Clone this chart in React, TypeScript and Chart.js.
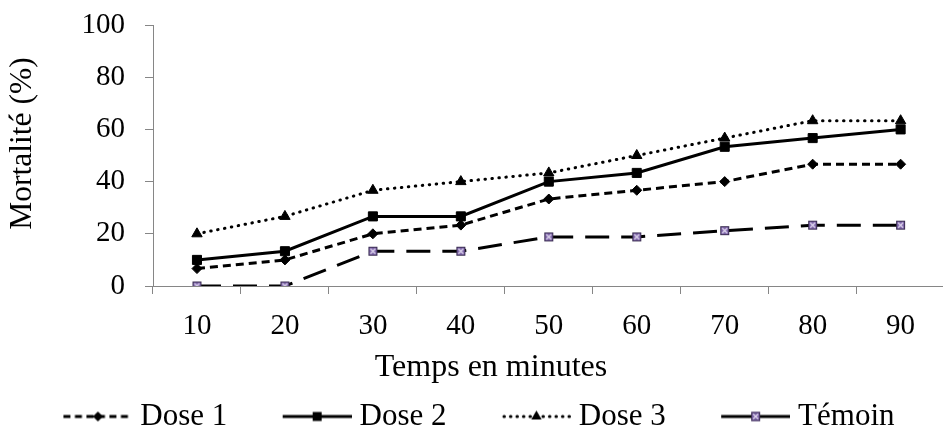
import React, { useEffect, useRef } from 'react';
import { Chart, registerables } from 'chart.js';

Chart.register(...registerables);

// ---- data ----
const categories = ['10', '20', '30', '40', '50', '60', '70', '80', '90'];
const dose1 = [6.67, 10, 20, 23.33, 33.33, 36.67, 40, 46.67, 46.67];
const dose2 = [10, 13.33, 26.67, 26.67, 40, 43.33, 53.33, 56.67, 60];
const dose3 = [20, 26.67, 36.67, 40, 43.33, 50, 56.67, 63.33, 63.33];
const temoin = [0, 0, 13.33, 13.33, 18.8, 18.8, 21.2, 23.3, 23.3];
const seriesLabels = ['Dose 1', 'Dose 2', 'Dose 3', 'Témoin'];
const yTickValues = [0, 20, 40, 60, 80, 100];
const xTitle = 'Temps en minutes';
const yTitle = 'Mortalité (%)';

const FONT = '"Liberation Serif", "Times New Roman", serif';
const TICK_FS = 29;
const LEGEND_FS = 31;
const AXIS = '#868686';

// layout (pixels)
const Y_AXIS_WIDTH = 145;
const X_AXIS_HEIGHT = 111;
const X_TITLE_POS = { x: 491, y: 368, size: 32 };
const Y_TITLE_POS = { x: 22.5, y: 143.5, size: 31.5 };

type Kind = 'diamond' | 'square' | 'triangle' | 'xsquare';

function drawMarker(g: CanvasRenderingContext2D, kind: Kind, x: number, y: number) {
  g.save();
  g.setLineDash([]);
  g.fillStyle = '#000';
  g.strokeStyle = '#000';
  g.lineWidth = 1;
  if (kind === 'diamond') {
    g.beginPath();
    g.moveTo(x, y - 5); g.lineTo(x + 5, y); g.lineTo(x, y + 5); g.lineTo(x - 5, y);
    g.closePath(); g.fill();
  } else if (kind === 'square') {
    g.fillRect(x - 4.5, y - 4.5, 9, 9);
  } else if (kind === 'triangle') {
    g.beginPath();
    g.moveTo(x, y - 6); g.lineTo(x + 5.2, y + 3); g.lineTo(x - 5.2, y + 3);
    g.closePath(); g.fill();
  } else {
    g.fillStyle = '#7d64a8';
    g.fillRect(x - 4.5, y - 4.5, 9, 9);
    g.strokeStyle = '#3a2d52';
    g.strokeRect(x - 4, y - 4, 8, 8);
    g.strokeStyle = '#e4dcf2';
    g.lineWidth = 1.2;
    g.beginPath();
    g.moveTo(x - 2.5, y - 2.5); g.lineTo(x + 2.5, y + 2.5);
    g.moveTo(x + 2.5, y - 2.5); g.lineTo(x - 2.5, y + 2.5);
    g.stroke();
  }
  g.restore();
}

function makePointImage(kind: Kind): HTMLCanvasElement {
  const c = document.createElement('canvas');
  c.width = 13; c.height = 13;
  const g = c.getContext('2d')!;
  drawMarker(g, kind, 6.5, 6.5);
  return c;
}

// legend swatch: transparent lead-in, then a 69px line sample with the marker in its middle
function makeLegendImage(kind: Kind, dash: number[], cap: CanvasLineCap, w: number, lineLen: number): HTMLCanvasElement {
  const c = document.createElement('canvas');
  c.width = w; c.height = 16;
  const g = c.getContext('2d')!;
  g.strokeStyle = '#000';
  g.lineWidth = 3;
  g.lineCap = cap;
  g.setLineDash(dash);
  const x0 = w - lineLen;
  g.beginPath();
  g.moveTo(x0 + (cap === 'round' ? 2 : 0), 8); g.lineTo(w, 8);
  g.stroke();
  drawMarker(g, kind, x0 + lineLen / 2, 8);
  return c;
}

const axisTitlesPlugin = {
  id: 'axisTitles',
  afterDraw(chart: any) {
    const ctx = chart.ctx as CanvasRenderingContext2D;
    ctx.save();
    ctx.fillStyle = '#000';
    ctx.textAlign = 'center';
    ctx.textBaseline = 'middle';
    ctx.font = `${X_TITLE_POS.size}px ${FONT}`;
    ctx.fillText(xTitle, X_TITLE_POS.x, X_TITLE_POS.y);
    ctx.translate(Y_TITLE_POS.x, Y_TITLE_POS.y);
    ctx.rotate(-Math.PI / 2);
    ctx.font = `${Y_TITLE_POS.size}px ${FONT}`;
    ctx.fillText(yTitle, 0, 0);
    ctx.restore();
  },
};

export default function App() {
  const ref = useRef<HTMLCanvasElement>(null);

  useEffect(() => {
    const canvas = ref.current!;
    const BOXW = 112.8;
    const IMGW = 128;
    const LINE = 69;
    const temoinPoint = makePointImage('xsquare');
    const legendImgs = [
      makeLegendImage('diamond', [7, 4.5], 'butt', IMGW, LINE),
      makeLegendImage('square', [], 'butt', IMGW, LINE),
      makeLegendImage('triangle', [0.5, 6], 'round', IMGW, LINE),
      makeLegendImage('xsquare', [], 'butt', IMGW, LINE),
    ];
    const common = {
      borderColor: '#000',
      backgroundColor: '#000',
      pointBackgroundColor: '#000',
      pointBorderColor: '#000',
      pointBorderWidth: 1,
      borderWidth: 3,
      tension: 0,
      fill: false,
    };
    const chart = new Chart(canvas, {
      type: 'line',
      data: {
        labels: categories,
        datasets: [
          { ...common, label: seriesLabels[0], data: dose1, borderDash: [8, 5], pointStyle: 'rectRot', pointRadius: 5 },
          { ...common, label: seriesLabels[1], data: dose2, pointStyle: 'rect', pointRadius: 6.4 },
          { ...common, label: seriesLabels[2], data: dose3, borderDash: [0.5, 6.5], borderCapStyle: 'round', pointStyle: 'triangle', pointRadius: 6 },
          { ...common, label: seriesLabels[3], data: temoin, borderDash: [24, 12], pointStyle: temoinPoint as any, pointRadius: 6 },
        ] as any,
      },
      plugins: [axisTitlesPlugin],
      options: {
        responsive: false,
        maintainAspectRatio: false,
        animation: false,
        devicePixelRatio: 1,
        layout: { padding: { top: 25, left: 8, right: 0, bottom: 0 } },
        plugins: {
          tooltip: { enabled: false },
          legend: {
            position: 'bottom',
            align: 'start',
            labels: {
              usePointStyle: true,
              pointStyleWidth: BOXW,
              padding: 4,
              color: '#000',
              font: { family: FONT, size: LEGEND_FS },
              generateLabels: (ch: any) =>
                ch.data.datasets.map((ds: any, i: number) => ({
                  text: ds.label,
                  pointStyle: legendImgs[i],
                  fillStyle: 'transparent',
                  strokeStyle: 'transparent',
                  lineWidth: 0,
                  hidden: false,
                  datasetIndex: i,
                  fontColor: '#000',
                })),
            },
          },
        },
        scales: {
          x: {
            type: 'category',
            offset: true,
            afterFit: (s: any) => { s.height = X_AXIS_HEIGHT; },
            grid: { display: true, offset: true, drawOnChartArea: false, drawTicks: true, tickLength: 8, color: AXIS, lineWidth: 1 },
            border: { display: true, color: AXIS, width: 1 },
            ticks: { color: '#000', padding: 14.5, font: { family: FONT, size: TICK_FS } },
            title: { display: false },
          },
          y: {
            min: 0,
            max: 100,
            afterFit: (s: any) => { s.width = Y_AXIS_WIDTH; },
            afterBuildTicks: (s: any) => { s.ticks = yTickValues.map((v) => ({ value: v })); },
            grid: { display: true, drawOnChartArea: false, drawTicks: true, tickLength: 8, color: AXIS, lineWidth: 1 },
            border: { display: true, color: AXIS, width: 1 },
            ticks: { color: '#000', padding: 20, font: { family: FONT, size: TICK_FS, lineHeight: 0.2 } },
            title: { display: false },
          },
        },
      } as any,
    });
    return () => chart.destroy();
  }, []);

  return (
    <div style={{ position: 'absolute', left: 0, top: 0, width: 943, height: 430, overflow: 'hidden', background: '#fff' }}>
      <canvas ref={ref} width={952} height={442} />
    </div>
  );
}
